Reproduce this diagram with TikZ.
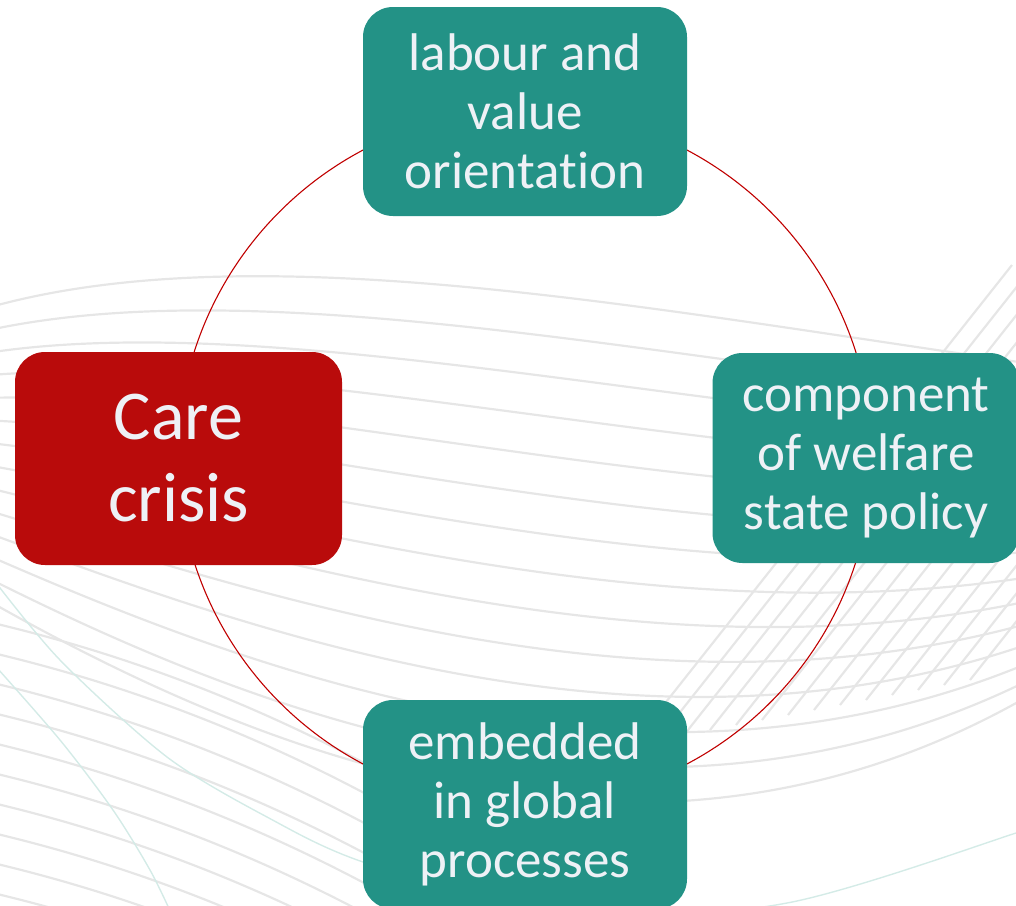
\documentclass[tikz,border=0pt]{standalone}
\usepackage{fontspec}
\setmainfont[Ligatures=NoCommon]{Carlito}
\definecolor{CareRed}{HTML}{B90B0B}
\definecolor{PetrolGreen}{HTML}{239286}
\definecolor{BoxText}{HTML}{EEF1F6}
\definecolor{RingRed}{HTML}{C00000}
\definecolor{WaveGrey}{HTML}{E6E6E6}
\definecolor{WaveMint}{HTML}{D4EBE7}

\begin{document}
\begin{tikzpicture}[x=1pt, y=-1pt,
    aspect/.style={fill=PetrolGreen, text=BoxText, rounded corners=30pt, align=center,
        font=\fontsize{53}{59}\selectfont},
    crisisbox/.style={fill=CareRed, text=BoxText, rounded corners=30pt, align=center,
        font=\fontsize{70}{82}\selectfont},
    waveline/.style={WaveGrey, line width=2.2pt},
    mintline/.style={WaveMint, line width=1.4pt}]
    \useasboundingbox (0,0) rectangle (1016,905);

    % Background waves
    \begin{scope}
        \clip (0,0) rectangle (1016,905);
        % upper hammock
        \foreach \i in {0,...,13}{
            \draw[waveline] (-20,{310+22*\i}) .. controls (250,{230+40*\i}) and (650,{310+47*\i}) .. (1040,{365+36*\i-0.85*\i*\i});
        }
        % lower left fan
        \foreach \i in {0,...,12}{
            \draw[waveline] (-20,{620+30*\i}) .. controls (200,{670+30*\i}) and (420,{770+30*\i}) .. (650,{950+30*\i});
        }
        % net on the right
        \foreach \j in {0,...,13}{
            \draw[waveline] ({632+26*\j},{745-5*\j}) -- ({1012+26*\j},{265-5*\j});
        }
        % mint strokes
        \draw[mintline] plot[smooth] coordinates {(-10,575) (60,660) (167,757) (267,817) (363,862) (560,918) (787,903) (1016,833) (1040,822)};
        \draw[mintline] plot[smooth] coordinates {(-10,660) (60,740) (113,810) (150,870) (172,915)};
    \end{scope}

    % Ring behind the boxes
    \coordinate (hub) at (525,457);
    \draw[RingRed, line width=1.1pt] (hub) circle[radius=347pt];

    % Boxes
    \node[crisisbox, minimum width=327pt, minimum height=213pt] (care) at (178.5,458.5) {Care\\crisis};
    \node[aspect, minimum width=324pt, minimum height=209pt] (labour) at (525,111.5) {labour and\\value\\orientation};
    \node[aspect, minimum width=307pt, minimum height=210pt] (welfare) at (866,458) {component\\of welfare\\state policy};
    \node[aspect, minimum width=324pt, minimum height=209pt] (global) at (525,804.5) {embedded\\in global\\processes};

\end{tikzpicture}
\end{document}
